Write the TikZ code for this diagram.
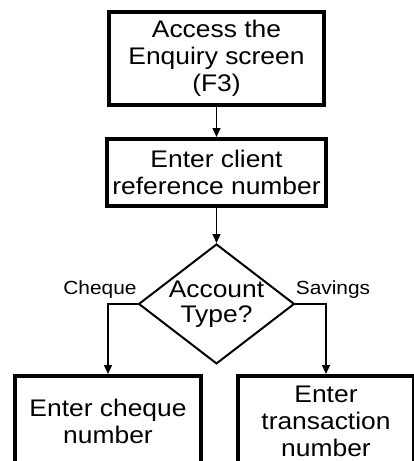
\documentclass[tikz,border=0pt]{standalone}
\usepackage{fontspec}
\setmainfont[FakeStretch=1.1]{Liberation Sans}
\usetikzlibrary{positioning,arrows.meta,shapes.geometric}
\tikzset{
  stepbox/.style={rectangle,draw=black,line width=4pt,align=center,
    inner sep=2pt,font=\fontsize{24}{27}\selectfont},
  decide/.style={diamond,draw=black,line width=2pt,align=center,aspect=1.3,
    inner sep=0pt,minimum width=150pt,minimum height=114pt,
    font=\fontsize{24}{25}\selectfont},
  ar/.style={-{Triangle[length=9pt,width=8pt]},line width=1.5pt},
  lbl/.style={font=\fontsize{19}{21}\selectfont},
}

\begin{document}
\begin{tikzpicture}[x=1pt,y=1pt]
  \useasboundingbox (0,0) rectangle (414,-461);
  \node[stepbox,minimum width=215pt,minimum height=93pt,anchor=north] (access)
    at (216.5,-10) {Access the\\Enquiry screen\\(F3)};
  \node[stepbox,minimum width=219pt,minimum height=67pt,below=30pt of access] (client)
    {Enter client\\reference number};
  \node[decide,below=35pt of client] (type) {Account\\Type?};
  \node[stepbox,minimum width=186pt,minimum height=90pt,anchor=north] (cheque)
    at (108,-374) {Enter cheque\\number};
  \node[stepbox,minimum width=176pt,minimum height=90pt,anchor=north] (trans)
    at (326,-374) {Enter\\transaction\\number};
  \node[lbl] (chq) at (100,-290) {Cheque};
  \node[lbl] (sav) at (333,-290) {Savings};
  \draw[ar] (access) -- (client);
  \draw[ar] (client) -- (type);
  \draw[ar] (type.west) -| (cheque.north);
  \draw[ar] (type.east) -| (trans.north);
\end{tikzpicture}
\end{document}
